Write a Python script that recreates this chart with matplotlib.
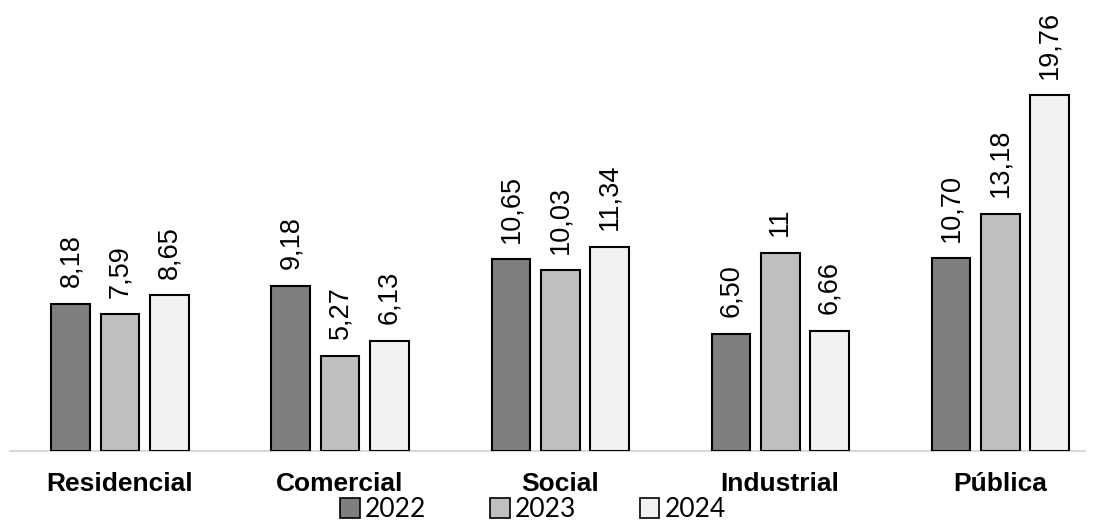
import numpy as np
import matplotlib.pyplot as plt
from matplotlib.patches import Patch

categorias = ['Residencial', 'Comercial', 'Social', 'Industrial', 'Pública']
anos = ['2022', '2023', '2024']
v2022 = [8.18, 9.18, 10.65, 6.50, 10.70]
v2023 = [7.59, 5.27, 10.03, 11.0, 13.18]
v2024 = [8.65, 6.13, 11.34, 6.66, 19.76]
rotulos2022 = ['8,18', '9,18', '10,65', '6,50', '10,70']
rotulos2023 = ['7,59', '5,27', '10,03', '11', '13,18']
rotulos2024 = ['8,65', '6,13', '11,34', '6,66', '19,76']
cores = ['#7f7f7f', '#bfbfbf', '#f2f2f2']

plt.rcParams['font.family'] = ['Liberation Sans', 'DejaVu Sans']

fig = plt.figure(figsize=(10.95, 5.27), dpi=100)
ax = fig.add_axes([10/1095, 76/527, 1075/1095, 451/527])

x = np.arange(len(categorias))
w = 0.177
passo = 0.223
series = [v2022, v2023, v2024]
rotulos = [rotulos2022, rotulos2023, rotulos2024]
for i in range(3):
    xs = x + (i - 1)*passo
    ax.bar(xs, series[i], w, color=cores[i], edgecolor='black', linewidth=1.5, zorder=3)
    for xi, v, r in zip(xs, series[i], rotulos[i]):
        ax.annotate(r, (xi, v), xytext=(0, 12), textcoords='offset points',
                    rotation=90, ha='center', va='bottom', fontsize=19.5)

ax.set_xlim(-0.5, 4.386)
ax.set_ylim(0, 451/18.0)
for s in ['top', 'right', 'left']:
    ax.spines[s].set_visible(False)
ax.spines['bottom'].set_color('#d9d9d9')
ax.spines['bottom'].set_linewidth(1.5)
ax.set_yticks([])
ax.set_xticks(x)
ax.set_xticklabels(categorias, fontsize=19, fontweight='bold')
ax.tick_params(axis='x', length=0, pad=15)

handles = [Patch(facecolor=c, edgecolor='black', linewidth=1.2) for c in cores]
fig.legend(handles, anos, loc='lower center', bbox_to_anchor=(533/1095, -0.036), ncol=3,
           frameon=False, prop={'family': 'Lato', 'size': 19}, handlelength=0.75,
           handleheight=0.75, handletextpad=0.2, columnspacing=2.4)

plt.savefig('out.png')
